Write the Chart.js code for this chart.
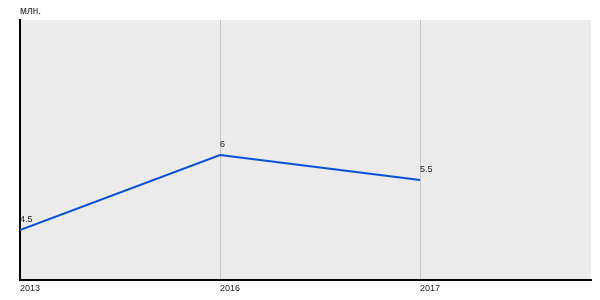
<!DOCTYPE html>
<html>
<head>
<meta charset="utf-8">
<script src="https://cdn.jsdelivr.net/npm/chart.js@4.4.0/dist/chart.umd.min.js"></script>
<style>
  html, body { margin: 0; padding: 0; background: #fff; }
  #wrap { width: 600px; height: 300px; }
</style>
</head>
<body>
<div id="wrap"><canvas id="chart" width="600" height="300"></canvas></div>
<script>
const years = ['2013', '2016', '2017'];
const values = [4.5, 6, 5.5];
const unitLabel = 'млн.';

const FONT = '"Liberation Sans", Arial, sans-serif';

// gray plot background, unit caption and point labels
const decor = {
  id: 'decor',
  beforeDraw(chart) {
    const { ctx, chartArea: a } = chart;
    ctx.save();
    ctx.fillStyle = '#ebebeb';
    ctx.fillRect(a.left, a.top, a.right - a.left, a.bottom - a.top);
    ctx.restore();
  },
  afterDatasetsDraw(chart) {
    const { ctx, chartArea: a } = chart;
    const meta = chart.getDatasetMeta(0);
    ctx.save();
    ctx.font = '9px ' + FONT;
    ctx.fillStyle = '#222';
    ctx.textAlign = 'left';
    ctx.textBaseline = 'alphabetic';
    meta.data.forEach((pt, i) => {
      ctx.fillText(String(values[i]), pt.x, pt.y - 8);
    });
    ctx.font = '10px ' + FONT;
    ctx.fillText(unitLabel, a.left, a.top - 6);
    ctx.restore();
  }
};

new Chart(document.getElementById('chart'), {
  type: 'line',
  data: {
    datasets: [{
      data: values.map((v, i) => ({ x: i, y: v })),
      borderColor: '#0a4fdc',
      borderWidth: 2,
      pointRadius: 0,
      tension: 0,
      fill: false
    }]
  },
  options: {
    responsive: false,
    animation: false,
    layout: { padding: { left: 20, top: 20, right: 9, bottom: 0 } },
    plugins: { legend: { display: false }, tooltip: { enabled: false } },
    scales: {
      x: {
        type: 'linear',
        min: 0,
        max: 2.855,
        afterBuildTicks(scale) {
          scale.ticks = years.map((y, i) => ({ value: i }));
        },
        afterFit(scale) { scale.height = 20; },
        ticks: {
          align: 'start',
          padding: 3,
          autoSkip: false,
          maxRotation: 0,
          color: '#222',
          font: { family: FONT, size: 9 },
          callback: (v) => years[v] ?? ''
        },
        grid: { color: '#c4c4c4', lineWidth: 1, drawTicks: false },
        border: { color: '#000', width: 2 }
      },
      y: {
        min: 3.5,
        max: 8.7,
        afterFit(scale) { scale.width = 0; },
        ticks: { display: false },
        grid: { display: false, drawTicks: false },
        border: { display: true, color: '#000', width: 2 }
      }
    }
  },
  plugins: [decor]
});
</script>
</body>
</html>
